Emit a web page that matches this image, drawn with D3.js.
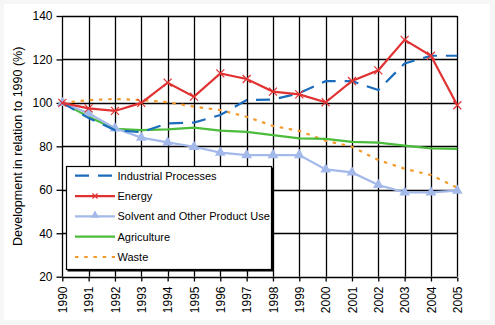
<!DOCTYPE html>
<html>
<head>
<meta charset="utf-8">
<script src="https://cdn.jsdelivr.net/npm/d3@7"></script>
<style>
  body { margin: 0; background: #ffffff; }
  svg { display: block; font-family: "Liberation Sans", Arial, sans-serif; }
</style>
</head>
<body>
<div id="chart"></div>
<script>
// Years on the x axis
const years = d3.range(1990, 2006);

// Series values (index 1990 = 100)
const industrial = [100, 93, 87.5, 86.5, 90.6, 90.9, 94.4, 101.3, 101.5, 104.5, 110, 110, 105.9, 118.2, 121.7, 121.7];
const energy = [100, 97.5, 96.3, 100, 109.3, 102.9, 113.6, 111, 105.2, 103.9, 100.3, 110.1, 115, 129, 121.7, 98.9];
const solvent = [100, 95.2, 88.3, 84, 81.8, 79.8, 77.1, 76, 76, 76, 69.4, 68, 62.2, 58.8, 58.8, 59.6];
const agriculture = [100, 93.6, 88, 87.5, 87.8, 88.6, 87.2, 86.7, 85.2, 83.7, 83.4, 82.1, 81.7, 80.3, 79.1, 78.8];
const waste = [100, 101.3, 101.8, 101.3, 100.3, 98.3, 96.7, 93.6, 89.4, 87.1, 82.6, 79.8, 73.7, 69.7, 66.8, 61];

const seriesNames = ["Industrial Processes", "Energy", "Solvent and Other Product Use", "Agriculture", "Waste"];
const yTicks = [20, 40, 60, 80, 100, 120, 140];

const series = [
  { name: seriesNames[0], values: industrial, color: "#1b6cbc", dash: "14,9", marker: null },
  { name: seriesNames[1], values: energy, color: "#e03232", dash: null, marker: "x" },
  { name: seriesNames[2], values: solvent, color: "#a3b9ea", dash: null, marker: "tri" },
  { name: seriesNames[3], values: agriculture, color: "#4cbc3c", dash: null, marker: null },
  { name: seriesNames[4], values: waste, color: "#f39a2c", dash: "3.5,5.7", marker: null }
];

const width = 495, height = 325;

const x = d3.scaleLinear().domain([1990, 2005]).range([62.3, 457.3]);
const y = d3.scaleLinear().domain([20, 140]).range([276.7, 16]);

const svg = d3.select("#chart").append("svg")
  .attr("width", width)
  .attr("height", height);

// light frame round the picture
svg.append("rect").attr("width", width).attr("height", height).attr("fill", "#f6f6f6");
svg.append("rect").attr("x", 4).attr("y", 4).attr("width", width - 9).attr("height", height - 9).attr("fill", "#fff");

// gridlines
svg.append("g").selectAll("line")
  .data(yTicks)
  .join("line")
  .attr("x1", x(1990)).attr("x2", x(2005))
  .attr("y1", d => Math.round(y(d)) + 0.5).attr("y2", d => Math.round(y(d)) + 0.5)
  .attr("stroke", "#000").attr("stroke-width", 1.3);

svg.append("g").selectAll("line")
  .data(years)
  .join("line")
  .attr("x1", d => Math.round(x(d)) + 0.5).attr("x2", d => Math.round(x(d)) + 0.5)
  .attr("y1", y(140)).attr("y2", y(20))
  .attr("stroke", "#000").attr("stroke-width", 1.3);

// Y axis
const yAxis = svg.append("g")
  .attr("transform", `translate(${Math.round(x(1990)) + 0.5},0)`)
  .call(d3.axisLeft(y).tickValues(yTicks).tickSize(6).tickPadding(4));
yAxis.select(".domain").remove();
yAxis.selectAll("line").attr("stroke", "#000").attr("stroke-width", 1.3);
yAxis.selectAll("text").attr("font-size", 12).attr("fill", "#000").attr("font-family", "Liberation Sans, Arial");

// X axis with rotated year labels
const xAxis = svg.append("g")
  .attr("transform", `translate(0,${Math.round(y(20)) + 0.5})`)
  .call(d3.axisBottom(x).tickValues(years).tickFormat(d3.format("d")).tickSize(4));
xAxis.select(".domain").remove();
xAxis.selectAll("line").attr("stroke", "#000").attr("stroke-width", 1.3);
xAxis.selectAll("text")
  .attr("font-size", 12).attr("fill", "#000").attr("font-family", "Liberation Sans, Arial")
  .attr("text-anchor", "end")
  .attr("transform", "rotate(-90)")
  .attr("x", -9).attr("y", 0).attr("dy", "0.36em");

// Y axis title
svg.append("text")
  .attr("transform", `translate(21.5,${(y(140) + y(20)) / 2}) rotate(-90)`)
  .attr("text-anchor", "middle")
  .attr("font-size", 12.5)
  .text("Development in relation to 1990 (%)");

// lines
const line = d3.line().x((d, i) => x(years[i])).y(d => y(d));

// draw order: waste, agriculture, solvent, industrial, energy
const order = [4, 3, 2, 0, 1];
order.forEach(k => {
  const s = series[k];
  svg.append("path")
    .datum(s.values)
    .attr("d", line)
    .attr("fill", "none")
    .attr("stroke", s.color)
    .attr("stroke-width", 2.2)
    .attr("stroke-dasharray", s.dash);

  if (s.marker === "x") {
    svg.append("g").selectAll("path")
      .data(s.values)
      .join("path")
      .attr("d", (d, i) => {
        const cx = x(years[i]), cy = y(d), r = 4;
        return `M${cx - r},${cy - r}L${cx + r},${cy + r}M${cx - r},${cy + r}L${cx + r},${cy - r}`;
      })
      .attr("stroke", s.color).attr("stroke-width", 1.2);
  }
  if (s.marker === "tri") {
    svg.append("g").selectAll("path")
      .data(s.values)
      .join("path")
      .attr("transform", (d, i) => `translate(${x(years[i])},${y(d)})`)
      .attr("d", d3.symbol(d3.symbolTriangle, 50))
      .attr("fill", s.color);
  }
});

// legend
const legend = svg.append("g");
const lx = 66.5, ly = 166.5, lw = 205, lh = 103;
legend.append("rect")
  .attr("x", lx).attr("y", ly).attr("width", lw).attr("height", lh)
  .attr("fill", "#fff").attr("stroke", "#000").attr("stroke-width", 1.2);
// shadow edge on the right and bottom
legend.append("path")
  .attr("d", `M${lx + lw + 1},${ly + 1}V${ly + lh + 1}H${lx + 1}`)
  .attr("fill", "none").attr("stroke", "#000").attr("stroke-width", 2);

const rowY = d3.scaleLinear().domain([0, 4]).range([175.7, 257]);
series.forEach((s, i) => {
  const yy = rowY(i);
  legend.append("line")
    .attr("x1", 75).attr("x2", 115).attr("y1", yy).attr("y2", yy)
    .attr("stroke", s.color).attr("stroke-width", 2.2)
    .attr("stroke-dasharray", s.dash);
  if (s.marker === "x") {
    legend.append("path")
      .attr("d", `M92.5,${yy - 2.5}L97.5,${yy + 2.5}M92.5,${yy + 2.5}L97.5,${yy - 2.5}`)
      .attr("stroke", s.color).attr("stroke-width", 1.2);
  }
  if (s.marker === "tri") {
    legend.append("path")
      .attr("transform", `translate(95,${yy - 1})`)
      .attr("d", d3.symbol(d3.symbolTriangle, 30))
      .attr("fill", s.color);
  }
  legend.append("text")
    .attr("x", 117.5).attr("y", yy).attr("dy", "0.36em")
    .attr("font-size", 11)
    .text(s.name);
});
</script>
</body>
</html>
